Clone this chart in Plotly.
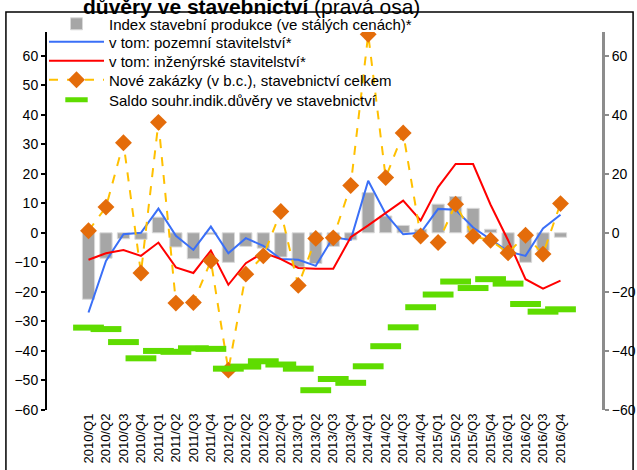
import plotly.graph_objects as go

# kategorie (čtvrtletí)
ctvrtleti = [f'{r}/Q{q}' for r in range(2010, 2017) for q in range(1, 5)]

# index stavební produkce (ve stálých cenách) - sloupce, levá osa
index_produkce = [-22.5, -8.6, -2.0, -2.2, 5.3, -4.8, -8.8, -0.5,
                  -10.0, -4.6, -5.2, -8.2, -11.6, -10.4, -4.6, -2.4,
                  13.6, 5.7, 2.5, 1.2, 9.7, 12.3, 8.3, 1.2,
                  -6.0, -10.0, -6.0, -1.5]

# pozemní stavitelství
pozemni = [-27.0, -9.5, -0.5, 0.0, 8.2, -1.0, -5.8, 2.1,
           -6.9, -1.8, -4.4, -8.9, -9.1, -11.2, -1.5, -2.4,
           17.6, 6.4, -0.5, 0.0, 8.1, 7.8, 1.8, -2.4,
           -6.3, -7.8, 1.5, 6.1]

# inženýrské stavitelství
inzenyrske = [-9.1, -6.9, -5.8, -7.8, -3.3, -11.7, -13.6, -6.0,
              -17.6, -10.3, -6.7, -8.9, -11.9, -12.2, -12.2, -1.5,
              2.5, 6.7, 10.9, 4.2, 15.5, 23.3, 23.3, 9.5,
              -2.5, -15.7, -18.9, -16.2]

# nové zakázky (v b.c.), stavebnictví celkem
zakazky = [0.7, 8.7, 30.5, -13.6, 37.4, -23.8, -23.6, -9.5,
           -46.5, -14.0, -7.8, 7.2, -17.8, -1.9, -1.7, 16.0,
           67.2, 18.7, 33.8, -1.1, -3.3, 9.7, -1.2, -2.5,
           -6.8, -0.8, -7.2, 9.9]

# saldo souhrnného indikátoru důvěry - pravá osa
saldo = [-32.1, -32.6, -37.0, -42.5, -40.0, -40.3, -39.1, -39.3,
         -46.0, -45.3, -43.5, -44.6, -46.0, -53.3, -49.5, -50.8,
         -45.2, -38.4, -32.0, -25.2, -20.9, -16.5, -18.7, -15.7,
         -17.2, -24.1, -26.7, -25.9]

rozsah = [-60, 68]
font = 'Liberation Sans, Arial, sans-serif'

fig = go.Figure()

fig.add_trace(go.Bar(x=ctvrtleti, y=index_produkce, legend='legend',
                     name='Index stavební produkce (ve stálých cenách)*',
                     marker=dict(color='#a6a6a6', line=dict(color='#d9d9d9', width=1))))

fig.add_trace(go.Scatter(x=ctvrtleti, y=pozemni, mode='lines', legend='legend2',
                         name='v tom: pozemní stavitelství*',
                         line=dict(color='#3a6ff7', width=2)))

fig.add_trace(go.Scatter(x=ctvrtleti, y=inzenyrske, mode='lines', legend='legend3',
                         name='v tom: inženýrské stavitelství*',
                         line=dict(color='#ff0000', width=2)))

fig.add_trace(go.Scatter(x=ctvrtleti, y=zakazky, mode='lines+markers', legend='legend4',
                         name='Nové zakázky (v b.c.), stavebnictví celkem',
                         line=dict(color='#ffc000', width=2, dash='dash'),
                         marker=dict(symbol='diamond', size=13, color='#e46c0a')))

fig.add_trace(go.Scatter(x=ctvrtleti, y=saldo, mode='markers', yaxis='y2', legend='legend5',
                         name='Saldo souhr.indik.důvěry ve stavebnictví',
                         marker=dict(symbol='line-ew', size=22,
                                     line=dict(color='#5fdc00', width=6))))

# rámeček kolem grafu
fig.add_shape(type='rect', xref='paper', yref='paper',
              x0=-0.074, x1=1.056, y0=-0.3, y1=1.053,
              line=dict(color='black', width=1.5))

# titulek (horní část je oříznutá jako v předloze)
fig.add_annotation(text='<b>důvěry ve stavebnictví</b> (pravá osa)',
                   xref='paper', yref='paper', x=0.369, y=1.067,
                   xanchor='center', yanchor='middle', showarrow=False,
                   font=dict(size=21, color='black', family=font))

# každá položka legendy zvlášť, kvůli hustším řádkům
def leg(y):
    return dict(x=-0.0054, y=y, xanchor='left', yanchor='middle',
                bgcolor='rgba(0,0,0,0)', font=dict(size=15),
                itemwidth=55, borderwidth=0)

fig.update_layout(
    width=637, height=470,
    # autoexpand vypnuto, jinak legendy posouvají okraje
    margin=dict(l=47, r=35, t=32, b=60, autoexpand=False),
    paper_bgcolor='white', plot_bgcolor='white',
    font=dict(family=font, size=14, color='black'),
    bargap=0.3,
    showlegend=True,
    legend=leg(1.021), legend2=leg(0.9735), legend3=leg(0.923),
    legend4=leg(0.873), legend5=leg(0.820),
    xaxis=dict(type='category', showline=False, ticks='', showgrid=False,
               tickangle=-90, tickfont=dict(size=13), automargin=False),
    xaxis2=dict(overlaying='x', anchor='free', position=60 / 128, side='top',
                range=[-0.5, 27.5], showline=True, linecolor='black', linewidth=2,
                ticks='outside', ticklen=8, tickwidth=2, tickcolor='black',
                tickvals=[3.5, 7.5, 11.5, 15.5, 19.5, 23.5, 27.5],
                showticklabels=False, showgrid=False, zeroline=False,
                automargin=False),
    yaxis=dict(range=rozsah, dtick=10, showgrid=False, zeroline=False,
               showline=True, linecolor='black', linewidth=2,
               ticks='outside', ticklen=4, tickwidth=2, tickcolor='black',
               tickfont=dict(size=14), automargin=False),
    yaxis2=dict(range=rozsah, dtick=20, overlaying='y', side='right',
                showgrid=False, zeroline=False,
                showline=True, linecolor='#8c8c8c', linewidth=3,
                ticks='outside', ticklen=4, tickwidth=2, tickcolor='#8c8c8c',
                tickfont=dict(size=14), automargin=False),
)

# bez výchozího okraje stránky (8 px), aby graf seděl v okně
fig.write_html('out.html', config={'displayModeBar': False},
               post_script="document.body.style.margin='0px';")
